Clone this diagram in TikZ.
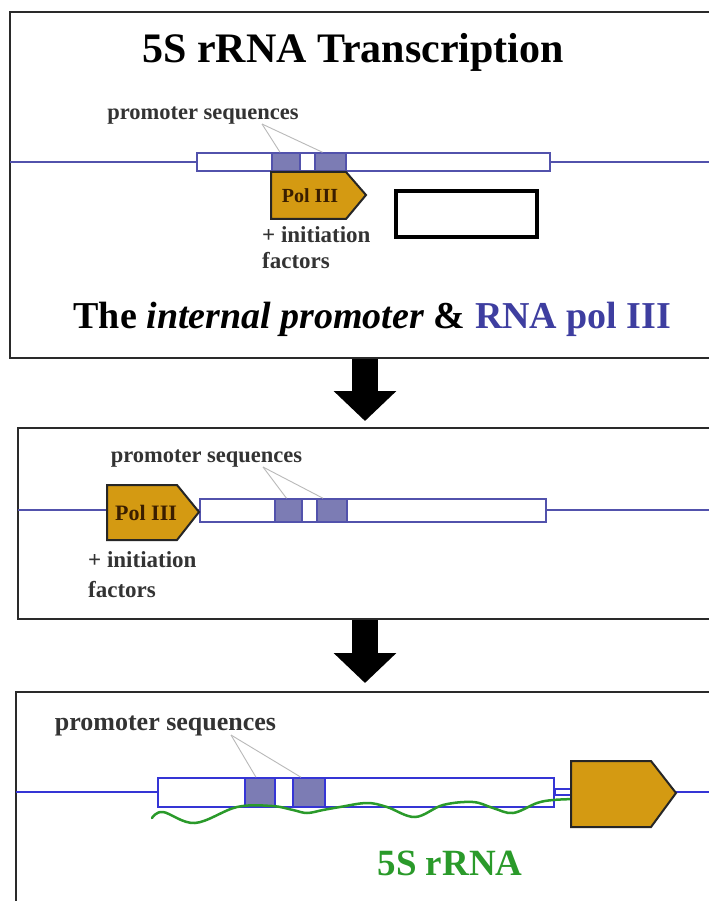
\documentclass[tikz,border=0pt]{standalone}
\usepackage{fontspec}
\setmainfont{Liberation Serif}
\usetikzlibrary{arrows.meta,calc}
\definecolor{dna}{HTML}{5252AC}
\definecolor{dnab}{HTML}{3535D5}
\definecolor{promo}{HTML}{7C7CB4}
\definecolor{gold}{HTML}{D49A12}
\definecolor{rnagreen}{HTML}{2A9A2A}
\definecolor{polblue}{HTML}{3E3EA0}
\definecolor{frame}{HTML}{2A2A2A}
\definecolor{poltext}{HTML}{3A1E00}
\newcommand\myfs[1]{\fontsize{#1}{#1}\selectfont}
\begin{document}
\begin{tikzpicture}[x=1pt,y=-1pt,
 panel/.style={draw=frame,line width=2.5pt},
 dnaline/.style={draw=dna,line width=2pt},
 genebox/.style={draw=dna,fill=white,line width=2pt,rectangle,inner sep=0pt},
 promobox/.style={draw=dna,fill=promo,line width=1.5pt,rectangle,inner sep=0pt},
 pol/.style={draw=black!85,fill=gold,line width=2pt,line join=miter},
 poltxt/.style={font=\myfs{#1}\bfseries,text=poltext,inner sep=0pt},
 lbl/.style={font=\myfs{#1}\bfseries,text=black!80,inner sep=0pt},
 pointer/.style={draw=gray!55,line width=0.9pt},
 bigarrow/.style={draw=black,line width=26pt,-{Triangle[length=30pt,width=61pt]}},
]
\useasboundingbox (0,0) rectangle (709,901);
\fill[white] (0,0) rectangle (709,901);

% ---------- Panel 1 ----------
\draw[panel] (709,12) -- (10,12) -- (10,358) -- (709,358);
\node[font=\myfs{42}\bfseries,anchor=base,inner sep=0pt] (title) at (353,63) {5S rRNA Transcription};
\draw[dnaline] (10,162) -- (709,162);
\node[genebox,minimum width=353pt,minimum height=18pt] (g1) at (373.5,162) {};
\node[promobox,minimum width=28pt,minimum height=18pt] (p1a) at (286,162) {};
\node[promobox,minimum width=31pt,minimum height=18pt] (p1b) at (330.5,162) {};
\node[lbl=22.5,anchor=base] (ps1) at (203,120) {promoter sequences};
\coordinate (ps1t) at (262,124);
\draw[pointer] (ps1t) -- ([xshift=-6pt]p1a.north);
\draw[pointer] (ps1t) -- ([xshift=-8pt]p1b.north);
\draw[pol] (271,172) -- (346,172) -- (366,195) -- (346,219) -- (271,219) -- cycle;
\node[poltxt=20] (pol1) at (310,196) {Pol III};
\node[lbl=23,anchor=base west] (in1) at (262,243) {+ initiation};
\node[lbl=23,anchor=base west] (fa1) at (262,268) {factors};
\node[draw=black,line width=4pt,minimum width=141pt,minimum height=46pt,inner sep=0pt] (blk) at (466.5,214) {};
\node[font=\myfs{38}\bfseries,anchor=base,inner sep=0pt] (sub) at (372.5,328) {The \textit{internal promoter} \& \textcolor{polblue}{RNA pol III}};

% ---------- Arrow 1 ----------
\coordinate (a1s) at (365,359);
\coordinate (a1e) at (365,421);
\draw[bigarrow] (a1s) -- (a1e);

% ---------- Panel 2 ----------
\draw[panel] (709,428) -- (18,428) -- (18,619) -- (709,619);
\draw[dnaline] (18,510) -- (709,510);
\node[genebox,minimum width=346pt,minimum height=23pt] (g2) at (373,510.5) {};
\node[promobox,minimum width=27pt,minimum height=23pt] (p2a) at (288.5,510.5) {};
\node[promobox,minimum width=30pt,minimum height=23pt] (p2b) at (332,510.5) {};
\node[lbl=22.5,anchor=base] (ps2) at (206.5,462) {promoter sequences};
\coordinate (ps2t) at (263,467);
\draw[pointer] (ps2t) -- ([xshift=-2pt]p2a.north);
\draw[pointer] (ps2t) -- ([xshift=-9pt]p2b.north);
\draw[pol] (107,485) -- (177,485) -- (199,512) -- (177,540) -- (107,540) -- cycle;
\node[poltxt=22] (pol2) at (146,513) {Pol III};
\node[lbl=23,anchor=base west] (in2) at (88,567) {+ initiation};
\node[lbl=23,anchor=base west] (fa2) at (88,597) {factors};

% ---------- Arrow 2 ----------
\coordinate (a2s) at (365,620);
\coordinate (a2e) at (365,683);
\draw[bigarrow] (a2s) -- (a2e);

% ---------- Panel 3 ----------
\draw[panel] (16,901) -- (16,692) -- (709,692);
\draw[draw=dnab,line width=2.5pt] (16,792) -- (709,792);
\node[genebox,draw=dnab,line width=2.5pt,minimum width=396pt,minimum height=29pt] (g3) at (356,792.5) {};
\node[promobox,draw=dnab,minimum width=30pt,minimum height=29pt] (p3a) at (260,792.5) {};
\node[promobox,draw=dnab,minimum width=32pt,minimum height=29pt] (p3b) at (309,792.5) {};
\draw[draw=dnab,line width=1.5pt,fill=white] (g3.east |- 0,789) rectangle (571,795);
\node[lbl=26,anchor=base] (ps3) at (165.5,730) {promoter sequences};
\coordinate (ps3t) at (231,735);
\draw[pointer] (ps3t) -- ([xshift=-4pt]p3a.north);
\draw[pointer] (ps3t) -- ([xshift=-8pt]p3b.north);
\draw[draw=rnagreen,line width=2.5pt,line cap=round] plot[smooth,tension=0.6] coordinates {
 (152,818) (163,812) (195,823) (237,807) (272,806) (293,810) (307,813) (323,810) (340,807)
 (367,803) (387,807) (415,817) (443,805) (473,802) (493,808) (513,813) (537,803) (553,800) (575,799)};
\draw[pol] (571,761) -- (651,761) -- (676,793) -- (651,827) -- (571,827) -- cycle;
\node[font=\myfs{37}\bfseries,text=rnagreen,anchor=base,inner sep=0pt] (rna) at (450,875) {5S rRNA};
\end{tikzpicture}
\end{document}
